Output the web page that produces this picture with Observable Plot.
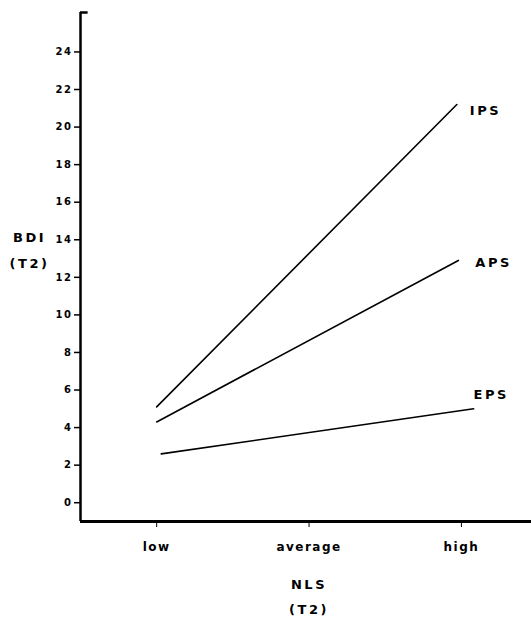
<!DOCTYPE html>
<html>
<head>
<meta charset="utf-8">
<script src="https://cdn.jsdelivr.net/npm/d3@7"></script>
<script src="https://cdn.jsdelivr.net/npm/@observablehq/plot@0.6"></script>
<style>
  html, body { margin: 0; padding: 0; background: #fff; }
  svg { display: block; }
  svg text { letter-spacing: 1.5px; }
  svg .big text { letter-spacing: 2.5px; }
</style>
</head>
<body>
<div id="chart"></div>
<script>
// NLS (T2) levels
const levels = ["low", "average", "high"];
const levelIndex = [0, 1, 2];
// BDI (T2) y ticks
const yTicks = [0, 2, 4, 6, 8, 10, 12, 14, 16, 18, 20, 22, 24];
// series: start (low) and end (high) points
const series = ["IPS", "APS", "EPS"];
const seriesX = [[0, 1.97], [0, 1.98], [0.03, 2.08]];
const seriesY = [[5.1, 21.2], [4.3, 12.9], [2.6, 5.0]];

const lines = [];
series.forEach((s, i) => {
  seriesX[i].forEach((x, j) => lines.push({series: s, x, y: seriesY[i][j]}));
});
const ends = series.map((s, i) => ({series: s, x: seriesX[i][1], y: seriesY[i][1]}));

const font = "'DejaVu Sans', sans-serif";
const labelStyle = {textAnchor: "start", fontSize: 13, fontWeight: "bold", className: "big"};
const chart = Plot.plot({
  width: 531,
  height: 617,
  marginLeft: 80,
  marginRight: 0,
  marginTop: 12,
  marginBottom: 96,
  style: {fontFamily: font, background: "#fff", color: "#000", overflow: "visible"},
  x: {domain: [-0.5, 2.46]},
  y: {domain: [-1, 26.1]},
  marks: [
    Plot.axisY({ticks: yTicks, tickSize: 6, tickPadding: 2, tickFormat: d => String(d),
      fontSize: 10, fontWeight: "bold", label: null, strokeWidth: 1.5}),
    Plot.axisX({ticks: levelIndex, tickFormat: (d) => levels[d], tickSize: 6, tickPadding: 15,
      fontSize: 12, fontWeight: "bold", label: null, strokeWidth: 1}),
    Plot.ruleX([-0.5], {y1: -1, y2: 26.1, strokeWidth: 2.5}),
    Plot.ruleY([26.1], {x1: -0.5, x2: -0.45, strokeWidth: 2.5}),
    Plot.ruleY([-1], {strokeWidth: 3}),
    Plot.line(lines, {x: "x", y: "y", z: "series", stroke: "#000", strokeWidth: 1.6}),
    Plot.text(ends.filter(d => d.series === "IPS"), {x: "x", y: "y", text: "series", dx: 13, dy: 6, ...labelStyle}),
    Plot.text(ends.filter(d => d.series === "APS"), {x: "x", y: "y", text: "series", dx: 17, dy: 2, ...labelStyle}),
    Plot.text(ends.filter(d => d.series === "EPS"), {x: "x", y: "y", text: "series", dx: 0, dy: -14, ...labelStyle}),
    Plot.text(["BDI\n(T2)"], {frameAnchor: "left", dx: -51, dy: -20, textAnchor: "middle",
      lineHeight: 1.95, fontSize: 13, fontWeight: "bold", className: "big"}),
    Plot.text(["NLS\n(T2)"], {frameAnchor: "bottom", dx: 3, dy: 92, textAnchor: "middle",
      lineHeight: 1.85, fontSize: 13, fontWeight: "bold", className: "big"})
  ]
});
document.getElementById("chart").appendChild(chart);
</script>
</body>
</html>
